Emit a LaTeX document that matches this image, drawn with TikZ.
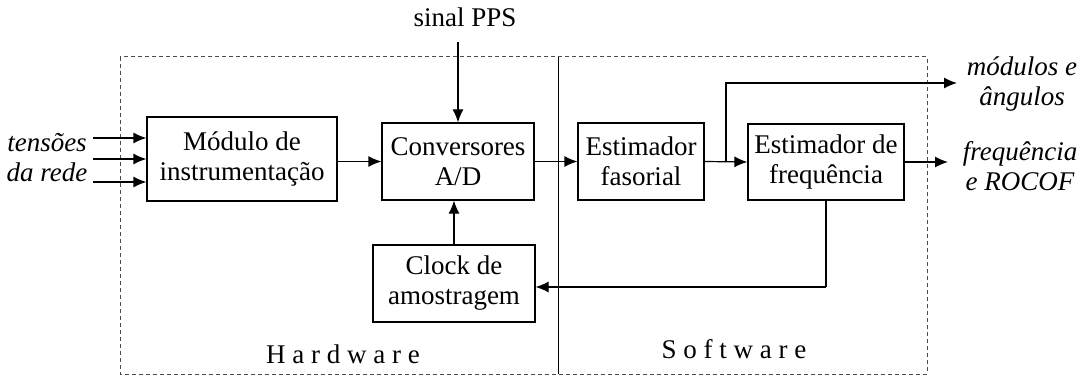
\documentclass[tikz,border=0pt]{standalone}
\usepackage{fontspec}
\setmainfont{Liberation Serif}
\usetikzlibrary{arrows.meta}
\begin{document}
\begin{tikzpicture}[x=1pt,y=-1pt,
  txt/.style={font=\fontsize{27}{30}\selectfont, inner sep=0pt, align=center},
  blk/.style={txt, draw, line width=1.2pt, rectangle},
  conn/.style={line width=1.2pt, -{Latex[length=13pt,width=11pt]}},
  plain/.style={line width=1.2pt},
  region/.style={draw=black!70, line width=1pt, dash pattern=on 4pt off 3pt},
  zone/.style={txt, anchor=base, font=\fontsize{27}{30}\selectfont\addfontfeature{LetterSpace=25}}]
\useasboundingbox (0,0) rectangle (1090,377);

% hardware / software enclosure
\draw[region] (120,57) rectangle (927,374);
\draw[line width=1pt] (558,57) -- (558,374);
\node[zone] (hw) at (343,363) {Hardware};
\node[zone] (sw) at (734,358) {Software};

% processing blocks
\node[blk, minimum width=190pt, minimum height=84pt] (M) at (242,159) {Módulo de\\instrumentação};
\node[blk, minimum width=152pt, minimum height=77pt] (C) at (458,161.5) {Conversores\\A/D};
\node[blk, minimum width=126pt, minimum height=77pt] (F) at (641,161.5) {Estimador\\fasorial};
\node[blk, minimum width=156pt, minimum height=76pt] (R) at (826,162) {Estimador de\\frequência};
\node[blk, minimum width=162pt, minimum height=77pt] (K) at (454,283.5) {Clock de\\amostragem};

% external signals
\node[txt] (pps) at (465,17) {sinal PPS};
\node[txt, font=\fontsize{27}{30}\selectfont\itshape] (vin) at (47,158) {tensões\\da rede};
\node[txt, font=\fontsize{27}{30}\selectfont\itshape] (mag) at (1022,84) {módulos e\\ângulos};
\node[txt, font=\fontsize{27}{30}\selectfont\itshape] (frq) at (1020,166) {frequência\\e ROCOF};

\coordinate (i1) at (93,138);
\coordinate (i2) at (93,159);
\coordinate (i3) at (93,182);
\coordinate (ppsA) at (458,42);
\coordinate (br) at (726,162);
\coordinate (magE) at (957,83);
\coordinate (frqE) at (948,162);
\coordinate (fb) at (826,287);

% connectors
\draw[conn] (i1) -- (M.west |- i1);
\draw[conn] (i2) -- (M.west |- i2);
\draw[conn] (i3) -- (M.west |- i3);
\draw[conn] (ppsA) -- (ppsA |- C.north);
\draw[conn] (M.east |- C.west) -- (C.west);
\draw[conn] (C.east |- F.west) -- (F.west);
\draw[conn] (F.east) -- (R.west);
\draw[conn] (br) |- (magE);
\draw[conn] (R.east) -- (frqE);
\draw[plain] (R.south) -- (fb);
\draw[conn] (fb) -- (K.east |- fb);
\draw[conn] (K.north) -- (K.north |- C.south);
\end{tikzpicture}
\end{document}
